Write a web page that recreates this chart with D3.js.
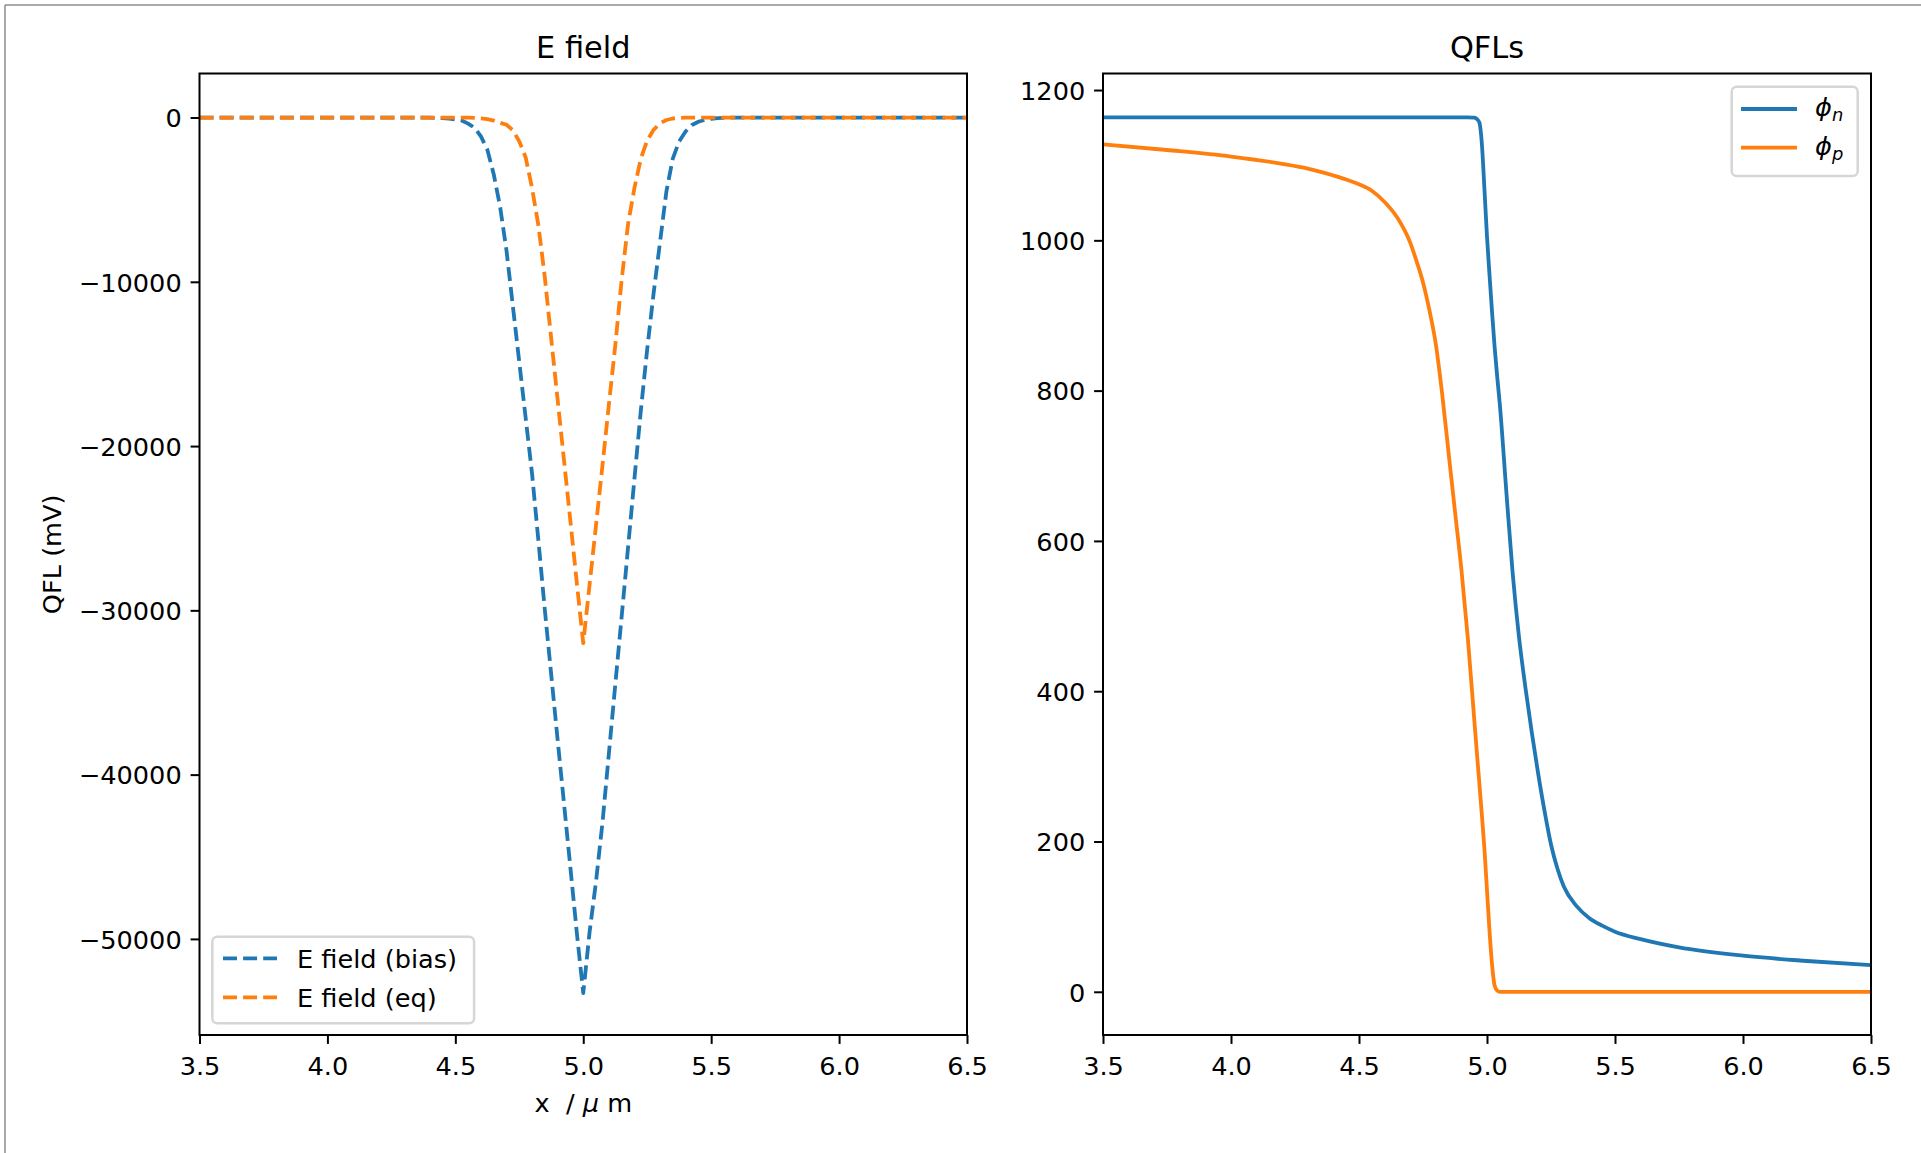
<!DOCTYPE html>
<html>
<head>
<meta charset="utf-8">
<script src="https://cdn.jsdelivr.net/npm/d3@7"></script>
<style>
  body { margin: 0; background: #fff; }
  svg { display: block; }
  text { font-family: "DejaVu Sans", sans-serif; fill: #000; }
</style>
</head>
<body>
<svg id="fig" width="1921" height="1153"></svg>
<script>
// ---------- data ----------
// Electric field across the junction (x in µm)
const eX = [3.5, 4.4, 4.425, 4.45, 4.475, 4.5, 4.525, 4.55, 4.575, 4.6, 4.625, 4.65, 4.675, 4.7,
  4.725, 4.75, 4.775, 4.8, 4.825, 4.85, 4.875, 4.9, 4.925, 4.95, 4.975, 5.0, 5.025, 5.05, 5.075,
  5.1, 5.125, 5.15, 5.175, 5.2, 5.225, 5.25, 5.275, 5.3, 5.325, 5.35, 5.375, 5.4, 5.425, 5.45,
  5.475, 5.5, 5.525, 5.55, 5.575, 5.6, 6.5];
const eFieldBias = [0, -10, -20, -40, -70, -110, -180, -370, -620, -1150, -1950, -3450, -5430, -8100,
  -11500, -14900, -18300, -21700, -25800, -30000, -33950, -37900, -41800, -45700, -49650, -53300, -49550, -46500, -42950,
  -38750, -34550, -30400, -26200, -22000, -17850, -14100, -10700, -7600, -4500, -2500, -1450, -850, -450, -260,
  -140, -75, -40, -20, -10, 0, 0];
const eFieldEq = [0, 0, 0, 0, 0, 0, -5, -10, -25, -50, -100, -190, -320, -440,
  -780, -1450, -2430, -4300, -6600, -9750, -13500, -17200, -20900, -24600, -28350, -32000, -28400, -24800, -21200,
  -17500, -13900, -9900, -6500, -4300, -2500, -1400, -750, -350, -150, -60, -25, -10, -5, 0,
  0, 0, 0, 0, 0, 0, 0];

// Quasi-Fermi levels (mV)
const qX = [3.5, 3.75, 4.0, 4.2, 4.3, 4.35, 4.4, 4.45, 4.5, 4.55, 4.6, 4.65, 4.7, 4.725, 4.75, 4.775, 4.8, 4.825,
  4.85, 4.875, 4.9, 4.925, 4.95, 4.96, 4.97, 4.98, 4.99, 5.0, 5.01, 5.02, 5.03, 5.04, 5.05, 5.075,
  5.1, 5.125, 5.15, 5.175, 5.2, 5.225, 5.25, 5.275, 5.3, 5.35, 5.4, 5.45, 5.5, 5.6, 5.75, 6.0, 6.25, 6.5];
const phiN = [1163.7, 1163.7, 1163.7, 1163.7, 1163.7, 1163.7, 1163.7, 1163.7, 1163.7, 1163.7, 1163.7, 1163.7, 1163.7, 1163.7, 1163.7, 1163.7, 1163.7, 1163.7,
  1163.7, 1163.7, 1163.7, 1163.6, 1163.2, 1161.5, 1157, 1128, 1068, 1005, 953, 903, 857, 818, 782, 668,
  558, 472, 405, 345, 290, 240, 196, 164, 140, 114, 98, 88, 80, 70, 59, 48, 41, 35.4];
const phiP = [1127.8, 1120.2, 1111.5, 1101.8, 1095.5, 1091.2, 1086.3, 1081, 1074.5, 1066, 1051, 1030, 997, 972, 944, 907, 862, 795,
  717, 639, 562, 471, 363, 320, 278, 235, 190, 135, 80, 35, 8, 1.5, 0, 0,
  0, 0, 0, 0, 0, 0, 0, 0, 0, 0, 0, 0, 0, 0, 0, 0, 0, 0];

// axis ticks and labels
const xTicks = [3.5, 4.0, 4.5, 5.0, 5.5, 6.0, 6.5];
const eTicks = [0, -10000, -20000, -30000, -40000, -50000];
const qflTicks = [0, 200, 400, 600, 800, 1000, 1200];
const eSeriesNames = ["E field (bias)", "E field (eq)"];
const qflSubscripts = ["n", "p"];

// ---------- styling ----------
const BLUE = "#1f77b4", ORANGE = "#ff7f0e";
const FS = 25.6, TITLE_FS = 30.4, LW = 3.8, SPINE = 2, TICK = 8.9;
const DASH = "14,6.1";

const svg = d3.select("#fig");
svg.append("rect").attr("width", 1921).attr("height", 1153).attr("fill", "#fff");
// outer frame edges
svg.append("line").attr("x1", 5).attr("x2", 1921).attr("y1", 5).attr("y2", 5)
  .attr("stroke", "#8c8c8c").attr("stroke-width", 1.5);
svg.append("line").attr("x1", 5).attr("x2", 5).attr("y1", 5).attr("y2", 1153)
  .attr("stroke", "#8c8c8c").attr("stroke-width", 1.5);

const axTop = 73.5, axBottom = 1035;
const panels = [
  { left: 199.5, right: 967, yDomain: [-55850, 2680], yTicks: eTicks, title: "E field", id: "pe" },
  { left: 1103, right: 1871, yDomain: [-57.5, 1222], yTicks: qflTicks, title: "QFLs", id: "pq" }
];

function drawPanel(p) {
  const x = d3.scaleLinear().domain([3.5, 6.5]).range([p.left, p.right]);
  const y = d3.scaleLinear().domain(p.yDomain).range([axBottom, axTop]);
  const g = svg.append("g");

  svg.append("clipPath").attr("id", "clip-" + p.id)
    .append("rect").attr("x", p.left).attr("y", axTop)
    .attr("width", p.right - p.left).attr("height", axBottom - axTop);

  // x axis
  const xa = g.append("g").attr("transform", `translate(0,${axBottom})`)
    .call(d3.axisBottom(x).tickValues(xTicks).tickFormat(d3.format(".1f"))
      .tickSize(TICK).tickSizeOuter(0).tickPadding(13));
  // y axis
  const ya = g.append("g").attr("transform", `translate(${p.left},0)`)
    .call(d3.axisLeft(y).tickValues(p.yTicks).tickFormat(d3.format("d"))
      .tickSize(TICK).tickSizeOuter(0).tickPadding(8.9));
  [xa, ya].forEach(a => {
    a.select(".domain").remove();
    a.selectAll(".tick line").attr("stroke", "#000").attr("stroke-width", SPINE);
    a.selectAll(".tick text").attr("font-size", FS).attr("font-family", "DejaVu Sans").attr("fill", "#000");
  });
  ya.selectAll(".tick text").attr("dy", "0.36em");

  // title
  g.append("text").attr("x", (p.left + p.right) / 2).attr("y", 58.3)
    .attr("text-anchor", "middle").attr("font-size", TITLE_FS).text(p.title);

  return { x, y, g };
}

const pe = drawPanel(panels[0]);
const pq = drawPanel(panels[1]);

// E field curves
const eLine = vals => d3.line().x((d, i) => pe.x(eX[i])).y((d, i) => pe.y(vals[i]))(vals);
[[eFieldBias, BLUE], [eFieldEq, ORANGE]].forEach(([vals, c]) => {
  pe.g.append("path").attr("d", eLine(vals)).attr("clip-path", "url(#clip-pe)")
    .attr("fill", "none").attr("stroke", c).attr("stroke-width", LW)
    .attr("stroke-dasharray", DASH).attr("stroke-linejoin", "round");
});

// QFL curves
const qLine = vals => d3.line().curve(d3.curveMonotoneX)
  .x((d, i) => pq.x(qX[i])).y((d, i) => pq.y(vals[i]))(vals);
[[phiN, BLUE], [phiP, ORANGE]].forEach(([vals, c]) => {
  pq.g.append("path").attr("d", qLine(vals)).attr("clip-path", "url(#clip-pq)")
    .attr("fill", "none").attr("stroke", c).attr("stroke-width", LW)
    .attr("stroke-linejoin", "round").attr("stroke-linecap", "square");
});

// spines
panels.forEach(p => {
  svg.append("rect").attr("x", p.left).attr("y", axTop)
    .attr("width", p.right - p.left).attr("height", axBottom - axTop)
    .attr("fill", "none").attr("stroke", "#000").attr("stroke-width", SPINE);
});

// axis labels
svg.append("text").attr("x", 583.3).attr("y", 1111.5).attr("text-anchor", "middle")
  .attr("font-size", FS).style("white-space", "pre")
  .call(t => {
    t.append("tspan").text("x  / ");
    t.append("tspan").attr("font-style", "italic").text("\u03bc");
    t.append("tspan").text(" m");
  });
svg.append("text").attr("transform", "translate(60.5,554.3) rotate(-90)")
  .attr("text-anchor", "middle").attr("font-size", FS).text("QFL (mV)");

// legends
function legendBox(x, y, w, h) {
  svg.append("rect").attr("x", x).attr("y", y).attr("width", w).attr("height", h)
    .attr("rx", 5).attr("ry", 5)
    .attr("fill", "rgba(255,255,255,0.8)").attr("stroke", "#d6d6d6").attr("stroke-width", 2.5);
}

// E field legend (lower left)
legendBox(212.3, 936.7, 261.8, 86.6);
[[BLUE, 958.3], [ORANGE, 997.3]].forEach(([c, cy], i) => {
  svg.append("line").attr("x1", 223).attr("x2", 277).attr("y1", cy).attr("y2", cy)
    .attr("stroke", c).attr("stroke-width", LW).attr("stroke-dasharray", DASH);
  svg.append("text").attr("x", 297).attr("y", cy).attr("dy", "0.36em")
    .attr("font-size", FS).text(eSeriesNames[i]);
});

// QFL legend (upper right)
legendBox(1731.7, 86.7, 126, 89.3);
[[BLUE, 109], [ORANGE, 147.7]].forEach(([c, cy], i) => {
  svg.append("line").attr("x1", 1741).attr("x2", 1797).attr("y1", cy).attr("y2", cy)
    .attr("stroke", c).attr("stroke-width", LW);
  const t = svg.append("text").attr("x", 1815).attr("y", cy + 7).attr("font-size", FS);
  t.append("tspan").attr("font-style", "italic").text("\u03d5");
  t.append("tspan").attr("font-style", "italic").attr("font-size", FS * 0.7)
    .attr("dy", 5).text(qflSubscripts[i]);
});
</script>
</body>
</html>
